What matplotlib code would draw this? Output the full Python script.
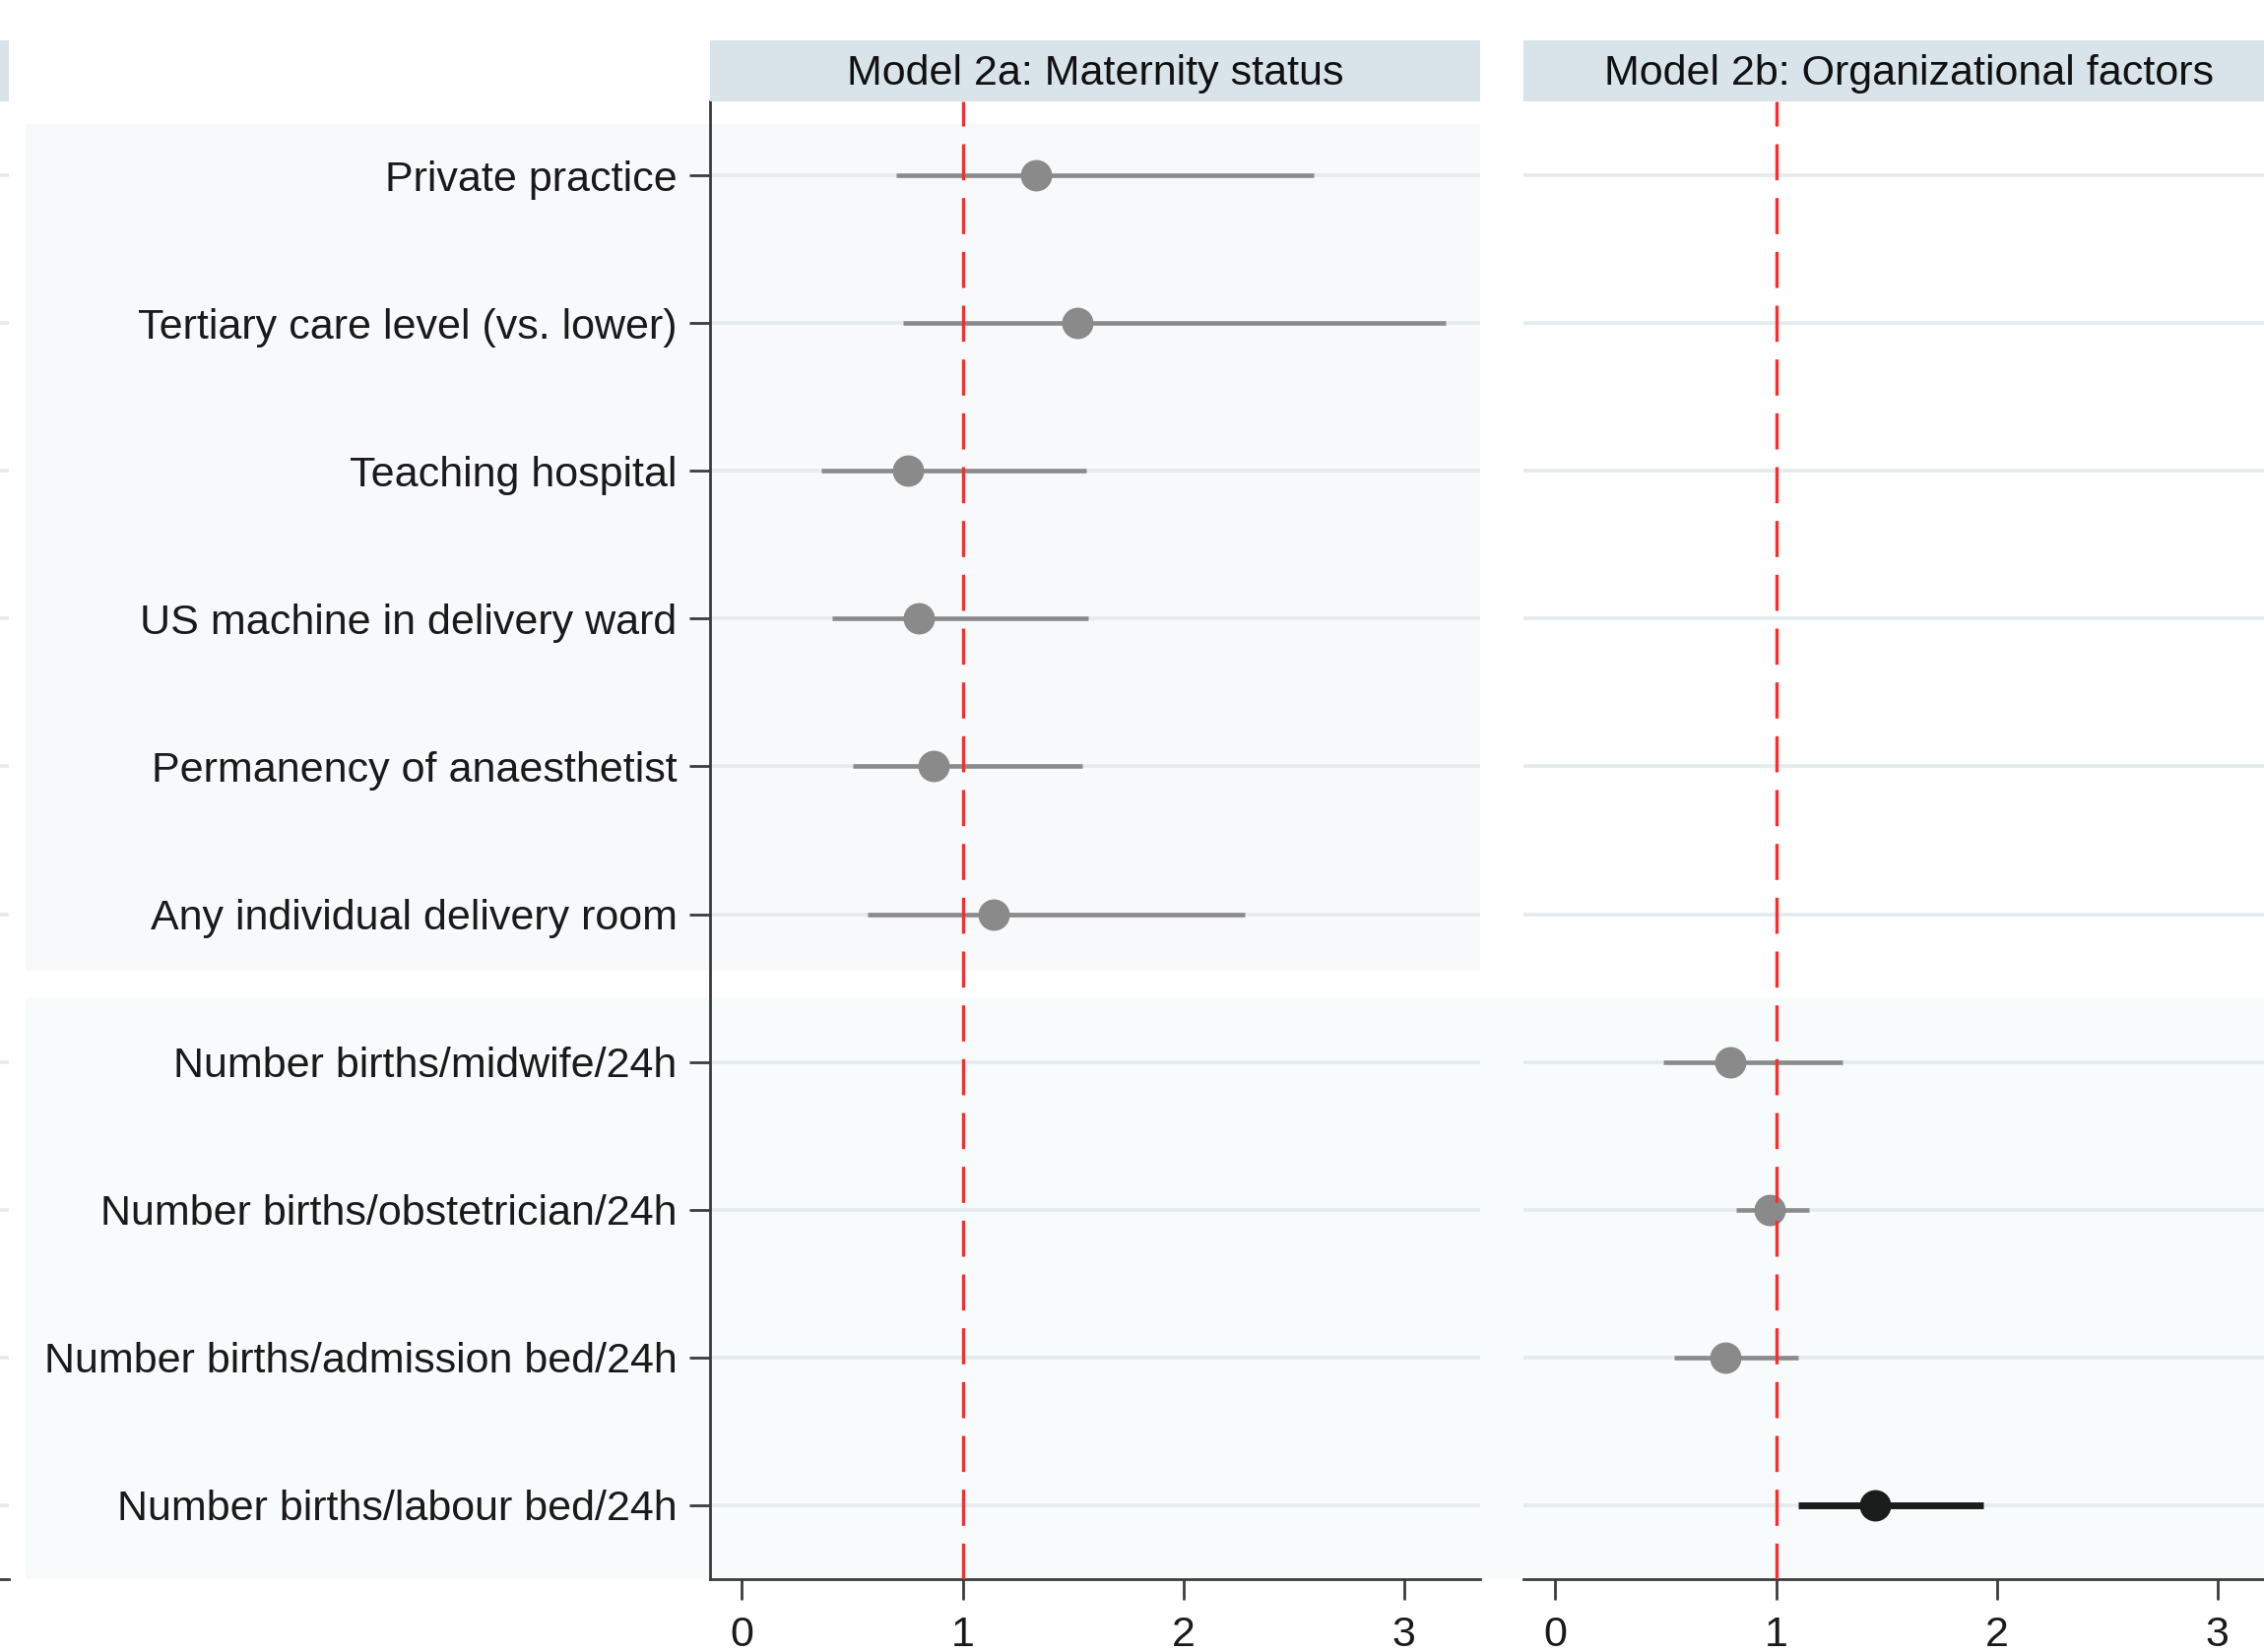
import matplotlib.pyplot as plt
from matplotlib.patches import Rectangle

plt.rcParams["font.family"] = ["Liberation Sans", "DejaVu Sans"]

# ---------- data ----------
labels = [
    "Private practice",
    "Tertiary care level (vs. lower)",
    "Teaching hospital",
    "US machine in delivery ward",
    "Permanency of anaesthetist",
    "Any individual delivery room",
    "Number births/midwife/24h",
    "Number births/obstetrician/24h",
    "Number births/admission bed/24h",
    "Number births/labour bed/24h",
]
titles = ["Model 2a: Maternity status", "Model 2b: Organizational factors"]

# Model 2a: rows 1-6
rows_a = [1, 2, 3, 4, 5, 6]
est_a = [1.33, 1.52, 0.75, 0.80, 0.87, 1.14]
lo_a = [0.70, 0.73, 0.36, 0.41, 0.50, 0.57]
hi_a = [2.59, 3.19, 1.56, 1.57, 1.54, 2.28]
sig_a = [False, False, False, False, False, False]

# Model 2b: rows 7-10
rows_b = [7, 8, 9, 10]
est_b = [0.79, 0.97, 0.77, 1.45]
lo_b = [0.49, 0.82, 0.54, 1.10]
hi_b = [1.30, 1.15, 1.10, 1.94]
sig_b = [False, False, False, True]

xticks = [0, 1, 2, 3]

# ---------- layout (pixels) ----------
W, H = 2299, 1678
fig = plt.figure(figsize=(W / 100, H / 100), dpi=100)
fig.patch.set_facecolor("white")

TOP, BOT = 103, 1604
HDR_TOP = 41
PW = 782
lefts = [721, 1547]

def fx(px):
    return px / W

def fy(py):
    return 1 - py / H

def frect(x0, y0, x1, y1, color):
    r = Rectangle((fx(x0), fy(y1)), fx(x1 - x0), (y1 - y0) / H,
                  transform=fig.transFigure, facecolor=color,
                  edgecolor="none", zorder=-5)
    fig.add_artist(r)

# background bands behind the two groups of rows
frect(26, 126, 1503, 986, "#f8f9fb")
frect(26, 1014, W + 50, BOT, "#f7fbfb")

GRID = "#e3ebee"
SPINE = "#3c3c3c"
GRAY = "#8a8a8a"
DARK = "#1b1d1c"
HDR = "#d8e4ea"
FS = 31

def make_panel(left, title):
    ax = fig.add_axes([fx(left), fy(BOT), fx(PW), (BOT - TOP) / H])
    ax.set_facecolor("none")
    ax.set_xlim(-0.145, 3.345)
    ax.set_ylim(10.5, 0.5)
    for r in range(1, 11):
        ax.axhline(r, color=GRID, lw=2.6, zorder=1)
    for s in ["top", "right", "left"]:
        ax.spines[s].set_visible(False)
    ax.spines["bottom"].set_color(SPINE)
    ax.spines["bottom"].set_linewidth(2)
    ax.set_xticks(xticks)
    ax.set_xticklabels([str(t) for t in xticks], fontsize=FS, color="#1a1a1a")
    ax.tick_params(axis="x", length=15, width=2, color=SPINE, pad=11.5)
    ax.set_yticks([])
    hax = fig.add_axes([fx(left), fy(TOP), fx(PW), (TOP - HDR_TOP) / H])
    hax.set_facecolor(HDR)
    hax.set_xticks([])
    hax.set_yticks([])
    for s in hax.spines.values():
        s.set_visible(False)
    if title:
        hax.text(0.5, 0.27, title, ha="center", va="baseline",
                 fontsize=FS, color="#111111", transform=hax.transAxes)
    return ax

# partial panel cut at the left edge
ghost = make_panel(9 - PW, "")
ghost.set_xticks([])

ax1 = make_panel(lefts[0], titles[0])
ax2 = make_panel(lefts[1], titles[1])

# y axis with labels on the first panel
ax1.spines["left"].set_visible(True)
ax1.spines["left"].set_color(SPINE)
ax1.spines["left"].set_linewidth(2)
ax1.set_yticks(range(1, 11))
ax1.set_yticklabels(labels, fontsize=FS, color="#1a1a1a")
ax1.tick_params(axis="y", length=15, width=2, color=SPINE, pad=9)


def draw(ax, rows, est, lo, hi, sig):
    for r, e, l, h, s in zip(rows, est, lo, hi, sig):
        c = DARK if s else GRAY
        ax.plot([l, h], [r, r], color=c, lw=5 if s else 3.3,
                solid_capstyle="butt", zorder=2)
        ax.plot(e, r, "o", color=c, ms=23, mew=0, zorder=3)
    ax.plot([1, 1], [10.5, 0.5], color="#ff2a2a", lw=2.4,
            linestyle=(0, (11, 5.4)), zorder=4)


draw(ax1, rows_a, est_a, lo_a, hi_a, sig_a)
draw(ax2, rows_b, est_b, lo_b, hi_b, sig_b)

fig.savefig("out.png", dpi=100)
